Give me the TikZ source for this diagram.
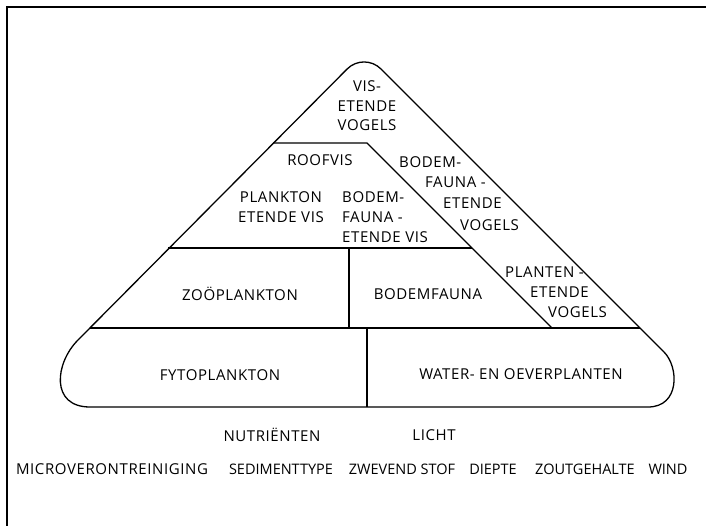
\documentclass[tikz,border=0pt]{standalone}
\usepackage{fontspec}
\setmainfont{Open Sans}[LetterSpace=4.0]
\newfontfamily\plainfont{Open Sans}
\begin{document}
\begin{tikzpicture}[x=1pt,y=-1pt,
  lbl/.style={inner sep=0pt, font=\fontsize{15}{18}\selectfont},
  botlbl/.style={inner sep=0pt, font=\plainfont\fontsize{14.5}{18}\selectfont},
  ln/.style={line width=1.3pt, line join=round},
  frame/.style={line width=1.6pt}]
\useasboundingbox (0,0) rectangle (706,526);
% frame
\coordinate (fbl) at (7,526);
\coordinate (ftl) at (7,7);
\coordinate (ftr) at (706,7);
\draw[frame] (fbl) -- (ftl) -- (ftr);
% outer outline
\coordinate (lslope) at (78,340);
\coordinate (apex) at (364,52);
\coordinate (rslope) at (664,352);
\coordinate (rbot) at (648,407);
\coordinate (lbot) at (90,407);
\draw[ln, rounded corners=24pt] (lslope) -- (apex) -- (rslope);
\draw[ln] (rslope) .. controls (679,367) and (680,407) .. (rbot) -- (lbot)
  .. controls (50,407) and (55,363) .. (lslope);
% inner lines
\coordinate (r1l) at (273,143);
\coordinate (r1r) at (367,143);
\coordinate (d1b) at (552,328);
\draw[ln] (r1l) -- (r1r) -- (d1b);
\coordinate (r2l) at (168,248);
\coordinate (r2r) at (472,248);
\draw[ln] (r2l) -- (r2r);
\coordinate (v1t) at (349,248);
\coordinate (v1b) at (349,328);
\draw[ln] (v1t) -- (v1b);
\coordinate (r3l) at (90,328);
\coordinate (r3r) at (640,328);
\draw[ln] (r3l) -- (r3r);
\coordinate (v2t) at (367,328);
\coordinate (v2b) at (367,407);
\draw[ln] (v2t) -- (v2b);
% labels
\node[lbl] (ve1) at (367,86) {VIS-};
\node[lbl] (ve2) at (367,106) {ETENDE};
\node[lbl] (ve3) at (367,125) {VOGELS};
\node[lbl] (roof) at (320,160) {ROOFVIS};
\node[lbl] (pe1) at (281,197) {PLANKTON};
\node[lbl] (pe2) at (281,217) {ETENDE VIS};
\node[lbl,anchor=west] (be1) at (342,197) {BODEM-};
\node[lbl,anchor=west] (be2) at (342,217) {FAUNA -};
\node[lbl,anchor=west] (be3) at (342,237) {ETENDE VIS};
\node[lbl,anchor=west] (bv1) at (399,162) {BODEM-};
\node[lbl,anchor=west] (bv2) at (425,182) {FAUNA -};
\node[lbl,anchor=west] (bv3) at (443,203) {ETENDE};
\node[lbl,anchor=west] (bv4) at (460,225) {VOGELS};
\node[lbl,anchor=west] (pv1) at (505,272) {PLANTEN -};
\node[lbl,anchor=west] (pv2) at (530,292) {ETENDE};
\node[lbl,anchor=west] (pv3) at (548,312) {VOGELS};
\node[lbl] (zoo) at (240,294) {ZOÖPLANKTON};
\node[lbl] (bodem) at (428,294) {BODEMFAUNA};
\node[lbl] (fyto) at (220,375) {FYTOPLANKTON};
\node[lbl] (water) at (521,374) {WATER- EN OEVERPLANTEN};
\node[lbl] (nutr) at (272,435) {NUTRIËNTEN};
\node[lbl] (licht) at (434,435) {LICHT};
\node[lbl] (micro) at (112,469) {MICROVERONTREINIGING};
\node[botlbl] (sed) at (281,469) {SEDIMENTTYPE};
\node[botlbl] (zwev) at (402,469) {ZWEVEND STOF};
\node[botlbl] (diep) at (493,469) {DIEPTE};
\node[botlbl] (zout) at (585,469) {ZOUTGEHALTE};
\node[botlbl] (wind) at (668,469) {WIND};
\end{tikzpicture}
\end{document}
